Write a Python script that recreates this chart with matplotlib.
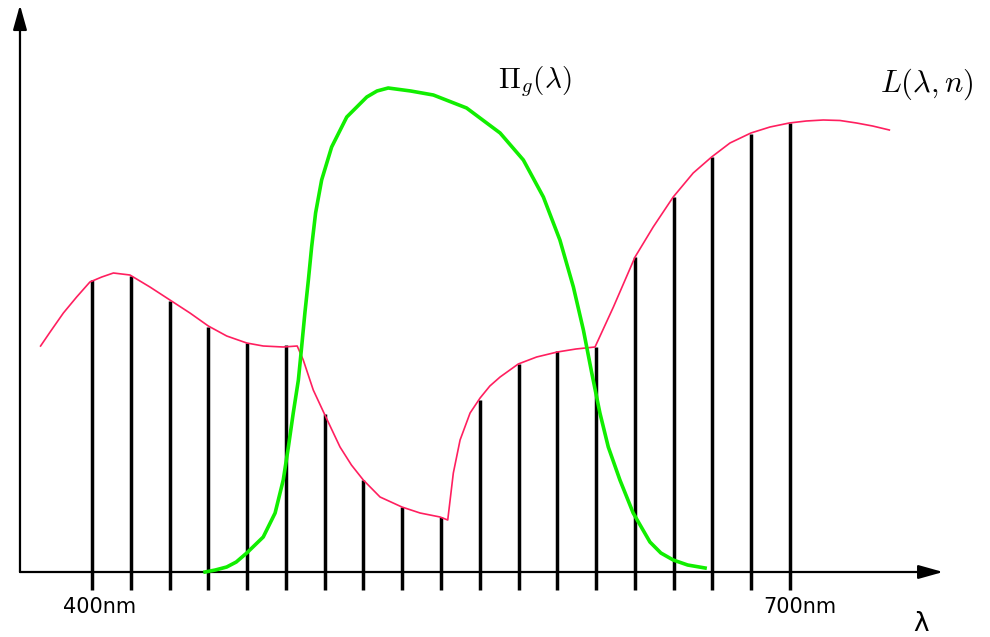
import numpy as np
import matplotlib
matplotlib.use("Agg")
import matplotlib.pyplot as plt

plt.rcParams['mathtext.fontset'] = 'cm'

# sampled wavelengths (nm) and sample heights
bar_nm = 400 + np.arange(19) * (300 / 18)
bar_vals = [2.92, 2.96, 2.71, 2.45, 2.29, 2.27, 1.58, 0.92, 0.65, 0.55,
            1.72, 2.08, 2.21, 2.25, 3.15, 3.75, 4.15, 4.38, 4.49]

# L(lambda, n) curve
pink_nm = [377.9, 382.0, 387.7, 393.4, 399.1, 404.2, 409.2, 416.3, 424.9, 433.5,
           442.1, 450.0, 457.9, 466.5, 473.6, 482.2, 488.2,
           490.8, 495.1, 500.1, 506.6, 511.5, 516.6, 523.8, 533.2, 541.0, 549.6, 552.9,
           555.3, 558.2, 562.5, 566.8, 571.0, 575.4, 583.2, 591.1, 600.0, 608.0, 616.2,
           624.1, 633.4, 641.2, 649.8, 658.4, 666.3, 674.2, 683.2, 691.4, 699.7,
           707.0, 714.3, 721.5, 728.6, 735.5, 742.7]
pink_vals = [2.26, 2.40, 2.59, 2.75, 2.90, 2.95, 2.99, 2.97, 2.85, 2.72,
             2.59, 2.46, 2.36, 2.29, 2.26, 2.25, 2.26,
             2.12, 1.82, 1.57, 1.25, 1.07, 0.92, 0.75, 0.65, 0.59, 0.55, 0.52,
             0.99, 1.32, 1.59, 1.74, 1.86, 1.95, 2.08, 2.15, 2.20, 2.23, 2.25,
             2.65, 3.15, 3.45, 3.75, 3.99, 4.15, 4.29, 4.39, 4.45, 4.49,
             4.51, 4.52, 4.515, 4.49, 4.46, 4.42]

# Pi_g(lambda) filter curve
green_nm = [448.6, 453.0, 457.9, 462.0, 466.5, 473.6, 478.7, 482.2, 484.4, 486.5,
            488.7, 490.1, 491.5, 493.0, 494.4, 496.1, 498.7, 503.0, 509.5, 518.1,
            522.5, 527.3, 537.0, 546.7, 561.0, 575.4, 585.4, 594.0, 601.1, 606.9,
            611.2, 614.8, 618.3, 621.9, 626.9, 632.6, 639.8, 644.5, 649.8, 656.0,
            663.5]
green_vals = [0.00, 0.02, 0.05, 0.10, 0.19, 0.35, 0.59, 0.92, 1.25, 1.59,
              1.92, 2.25, 2.59, 2.92, 3.25, 3.59, 3.92, 4.25, 4.55, 4.75,
              4.81, 4.84, 4.81, 4.77, 4.64, 4.39, 4.12, 3.75, 3.32, 2.85,
              2.42, 1.99, 1.59, 1.25, 0.92, 0.59, 0.30, 0.19, 0.12, 0.07,
              0.04]

fig = plt.figure(figsize=(9.9, 6.37), dpi=100)
ax = fig.add_axes([0, 0, 1, 1])
ax.set_xlim(360.46, 785.96)
ax.set_ylim(-0.65, 5.72)
ax.axis('off')

ax.vlines(bar_nm, -0.18, bar_vals, color='black', lw=2.5, zorder=2)
ax.plot(pink_nm, pink_vals, color='#ff1f5f', lw=1.2, zorder=3,
        solid_joinstyle='round')
ax.plot(green_nm, green_vals, color='#11ee00', lw=2.6, zorder=4,
        solid_joinstyle='round')

# axes with arrow heads
arrow = dict(arrowstyle='-|>,head_length=1.5,head_width=0.42', color='black',
             lw=1.6, shrinkA=0, shrinkB=0)
ax.annotate('', xy=(369.05, 5.67), xytext=(369.05, 0), arrowprops=arrow)
ax.annotate('', xy=(765.8, 0), xytext=(369.05, 0), arrowprops=arrow)

ax.text(403.4, -0.35, '400nm', fontsize=15, ha='center', va='center')
ax.text(704.3, -0.35, '700nm', fontsize=15, ha='center', va='center')
ax.text(756.3, -0.52, 'λ', fontsize=19, ha='center', va='center')
ax.text(590.4, 4.90, r'$\Pi_g(\lambda)$', fontsize=21, ha='center', va='center')
ax.text(758.9, 4.88, r'$L(\lambda,n)$', fontsize=22, ha='center', va='center')

fig.savefig('out.png', dpi=100)
